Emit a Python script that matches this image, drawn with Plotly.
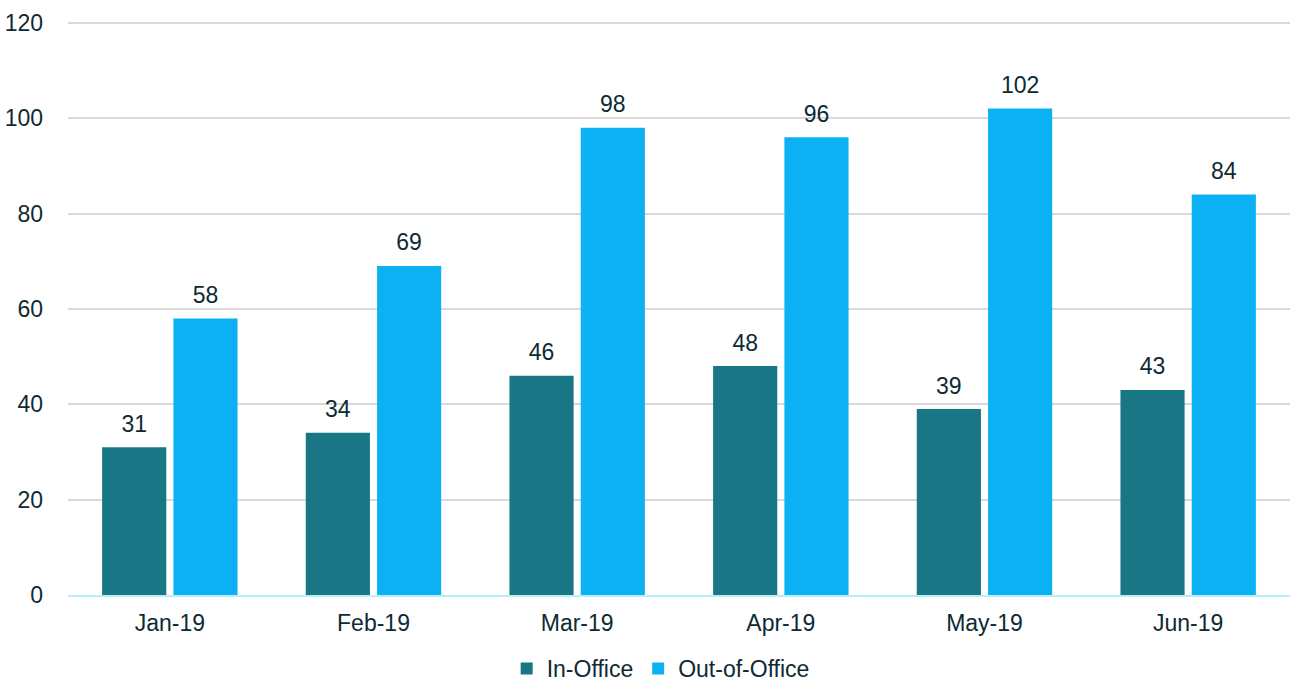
import plotly.graph_objects as go

months = ["Jan-19", "Feb-19", "Mar-19", "Apr-19", "May-19", "Jun-19"]
in_office = [31, 34, 46, 48, 39, 43]
out_office = [58, 69, 98, 96, 102, 84]

text_color = "#0e2a33"
font_family = "Liberation Sans, Arial, sans-serif"
fs = 23

fig = go.Figure()
fig.add_trace(go.Bar(
    x=months, y=in_office, name="In-Office",
    marker=dict(color="#197685", line=dict(width=0)),
))
fig.add_trace(go.Bar(
    x=months, y=out_office, name="Out-of-Office",
    marker=dict(color="#0cb1f3", line=dict(width=0)),
))
# value labels, grouped like the bars
for vals in (in_office, out_office):
    fig.add_trace(go.Scatter(
        x=months, y=vals, mode="markers+text", text=vals,
        textposition="top center", cliponaxis=False, showlegend=False,
        hoverinfo="skip",
        marker=dict(size=14, color="rgba(0,0,0,0)"),
        textfont=dict(size=fs, color=text_color, family=font_family),
    ))

fig.update_layout(
    width=1292, height=685,
    margin=dict(l=68, r=2, t=18, b=90),
    paper_bgcolor="white", plot_bgcolor="white",
    barmode="group", bargap=0.30, bargroupgap=0.10,
    scattermode="group", scattergap=0.30,
    font=dict(family=font_family, size=fs, color=text_color),
    showlegend=True,
    legend=dict(orientation="h", x=0.485, xanchor="center",
                yref="container", y=0.024, yanchor="middle",
                font=dict(size=fs, color=text_color), itemwidth=30,
                traceorder="normal"),
    xaxis=dict(showgrid=False, showline=True, linecolor="#b8eef8", linewidth=2,
               tickfont=dict(size=fs, color=text_color), ticks="", ticklabelstandoff=6,
               automargin=False),
    yaxis=dict(range=[0, 121], tickvals=[0, 20, 40, 60, 80, 100, 120],
               showgrid=True, gridcolor="#d9d9d9", gridwidth=2,
               zeroline=False, showline=False,
               tickfont=dict(size=fs, color=text_color), ticks="", ticklabelstandoff=24,
               automargin=False),
)

fig.write_html("out.html", config={"displayModeBar": False},
               post_script="document.body.style.margin='0';document.body.style.overflow='hidden';")
